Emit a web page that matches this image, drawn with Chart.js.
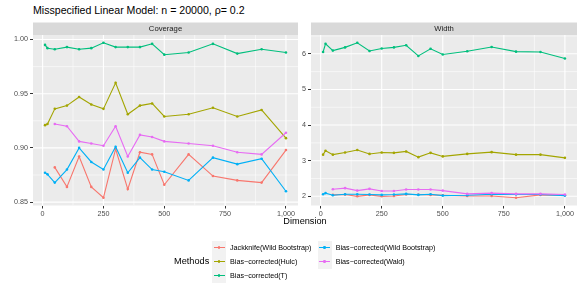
<!DOCTYPE html>
<html><head><meta charset="utf-8">
<script src="https://cdn.jsdelivr.net/npm/chart.js@4"></script>
<style>
body{margin:0;width:581px;height:291px;background:#fff;position:relative;overflow:hidden;font-family:"Liberation Sans",Arial,sans-serif;}
canvas{position:absolute;top:0}
.t{position:absolute;white-space:nowrap;color:#000;line-height:1}
</style></head><body>
<div class="t" id="title" style="left:33px;top:5px;font-size:10.6px;">Misspecified Linear Model: n = 20000, ρ= 0.2</div>
<canvas id="c1" width="300" height="230" style="left:0"></canvas>
<canvas id="c2" width="281" height="230" style="left:300px"></canvas>
<div class="t" style="left:205px;width:200px;text-align:center;top:216.5px;font-size:9.2px;">Dimension</div>
<div id="legend"></div>
<script>
// ---- data ----
const dims = [10,20,50,100,150,200,250,300,350,400,450,500,600,700,800,900,1000];
const methods = ['Jackknife(Wild Bootstrap)','Bias\u2212corrected(Hulc)','Bias\u2212corrected(T)','Bias\u2212corrected(Wild Bootstrap)','Bias\u2212corrected(Wald)'];
const colors = ['#F8766D','#A3A500','#00BF7D','#00B0F6','#E76BF3'];

const covJack = [null,null,0.882,0.864,0.892,0.864,0.854,0.899,0.862,0.896,0.894,0.866,0.894,0.874,0.870,0.868,0.898];
const covHulc = [0.921,0.922,0.936,0.939,0.947,0.940,0.936,0.960,0.931,0.939,0.941,0.929,0.931,0.937,0.929,0.935,0.909];
const covT    = [0.995,0.992,0.991,0.993,0.991,0.992,0.997,0.993,0.993,0.993,0.996,0.986,0.988,0.996,0.987,0.991,0.988];
const covWild = [0.877,0.8756,0.868,0.880,0.900,0.887,0.880,0.901,0.877,0.891,0.880,0.878,0.870,0.891,0.885,0.890,0.860];
const covWald = [null,null,0.922,0.920,0.906,0.904,0.902,0.920,0.892,0.912,0.910,0.906,0.904,0.902,0.896,0.894,0.914];

const widJack = [null,null,2.04,2.05,2.00,2.04,2.00,2.01,2.05,2.05,2.04,2.03,2.01,2.01,1.96,2.04,2.03];
const widHulc = [3.17,3.28,3.17,3.23,3.30,3.19,3.23,3.22,3.26,3.10,3.22,3.12,3.19,3.24,3.17,3.17,3.08];
const widT    = [6.05,6.28,6.09,6.18,6.31,6.08,6.15,6.18,6.24,5.94,6.14,5.98,6.07,6.19,6.06,6.05,5.87];
const widWild = [2.06,2.09,2.03,2.06,2.06,2.05,2.04,2.05,2.07,2.04,2.06,2.02,2.03,2.06,2.05,2.05,2.02];
const widWald = [null,null,2.20,2.23,2.16,2.21,2.15,2.15,2.19,2.19,2.19,2.16,2.07,2.09,2.07,2.07,2.05];

const dimTicks = [0,250,500,750,1000];
const covTicks = [0.85,0.90,0.95,1.00];
const widTicks = [2,3,4,5,6];

// ---- helpers ----
const FONT = '"Liberation Sans", Arial, sans-serif';
function expand(lo,hi){const d=(hi-lo)*0.05;return [lo-d,hi+d];}
function rangeOf(arrs){const v=arrs.flat().filter(x=>x!=null);return expand(Math.min(...v),Math.max(...v));}
function minors(t){const r=[];const s=t[1]-t[0];r.push(t[0]-s/2);for(let i=0;i<t.length;i++)r.push(t[i]+s/2);return r;}

const panelPlugin = {
  id:'panel',
  beforeDraw(chart){
    const o = chart.options.plugins.panel;
    const {ctx, chartArea:a, scales:{x,y}} = chart;
    ctx.save();
    ctx.fillStyle='#EBEBEB';
    ctx.fillRect(a.left,a.top,a.right-a.left,a.bottom-a.top);
    ctx.beginPath(); ctx.rect(a.left,a.top,a.right-a.left,a.bottom-a.top); ctx.clip();
    ctx.strokeStyle='#FFFFFF';
    ctx.lineWidth=0.55;
    minors(o.xt).forEach(v=>{const p=x.getPixelForValue(v);ctx.beginPath();ctx.moveTo(p,a.top);ctx.lineTo(p,a.bottom);ctx.stroke();});
    minors(o.yt).forEach(v=>{const p=y.getPixelForValue(v);ctx.beginPath();ctx.moveTo(a.left,p);ctx.lineTo(a.right,p);ctx.stroke();});
    ctx.lineWidth=1.1;
    o.xt.forEach(v=>{const p=x.getPixelForValue(v);ctx.beginPath();ctx.moveTo(p,a.top);ctx.lineTo(p,a.bottom);ctx.stroke();});
    o.yt.forEach(v=>{const p=y.getPixelForValue(v);ctx.beginPath();ctx.moveTo(a.left,p);ctx.lineTo(a.right,p);ctx.stroke();});
    ctx.restore();
    ctx.save();
    ctx.fillStyle='#D9D9D9';
    ctx.fillRect(a.left,a.top-12.5,a.right-a.left,12.5);
    ctx.fillStyle='#1A1A1A';
    ctx.font='7.7px '+FONT;
    ctx.textAlign='center'; ctx.textBaseline='middle';
    ctx.fillText(o.label,(a.left+a.right)/2,a.top-6);
    ctx.restore();
  }
};

function makeChart(id, label, series, yTicks, fmt, yW, padR){
  const yr = rangeOf(series);
  const datasets = series.map((s,i)=>({
    label: methods[i],
    data: dims.map((d,j)=>({x:d,y:s[j]})),
    borderColor: colors[i], backgroundColor: colors[i],
    borderWidth: 1.1, pointRadius: 1.3, pointBorderWidth:0, pointHoverRadius:0,
    tension:0, spanGaps:false, order: 5-i, clip:false
  }));
  return new Chart(document.getElementById(id), {
    type:'line',
    data:{datasets},
    plugins:[panelPlugin],
    options:{
      responsive:false, animation:false, devicePixelRatio:1,
      layout:{padding:{left:0,right:padR,top:35,bottom:6.5}},
      plugins:{legend:{display:false},tooltip:{enabled:false},panel:{label,xt:dimTicks,yt:yTicks}},
      scales:{
        x:{type:'linear',min:-39.5,max:1049.5,
           afterBuildTicks:s=>{s.ticks=dimTicks.map(v=>({value:v}));},
           afterFit:s=>{s.height=18;},
           grid:{drawOnChartArea:false,drawTicks:true,tickLength:3,tickColor:'#333333',tickWidth:1},
           border:{display:false},
           ticks:{color:'#4D4D4D',font:{family:FONT,size:7.2},padding:1,maxRotation:0,autoSkip:false}},
        y:{type:'linear',min:yr[0],max:yr[1],
           afterBuildTicks:s=>{s.ticks=yTicks.map(v=>({value:v}));},
           afterFit:s=>{s.width=yW;},
           grid:{drawOnChartArea:false,drawTicks:true,tickLength:3,tickColor:'#333333',tickWidth:1},
           border:{display:false},
           ticks:{color:'#4D4D4D',font:{family:FONT,size:7.2},padding:2,callback:fmt,autoSkip:false}}
      }
    }
  });
}

makeChart('c1','Coverage',[covJack,covHulc,covT,covWild,covWald],covTicks,v=>v.toFixed(2),33,2);
makeChart('c2','Width',[widJack,widHulc,widT,widWild,widWald],widTicks,v=>String(v),11,4);

// ---- legend ----
const leg = document.getElementById('legend');
function add(html){leg.insertAdjacentHTML('beforeend',html);}
add('<div class="t" style="left:174px;top:256.5px;font-size:9.2px;">Methods</div>');
const keyX=[212,317.5], labX=[230,335.7], rowC=[247.5,261.5,275.5];
methods.forEach((m,i)=>{
  const col = i<3?0:1, row = i<3?i:i-3;
  const kx=keyX[col], cy=rowC[row];
  add(`<div style="position:absolute;left:${kx}px;top:${cy-7}px;width:14px;height:14px;background:#F2F2F2"></div>`);
  add(`<div style="position:absolute;left:${kx+1.5}px;top:${cy-0.5}px;width:11px;height:1px;background:${colors[i]}"></div>`);
  add(`<div style="position:absolute;left:${kx+5.7}px;top:${cy-1.3}px;width:2.6px;height:2.6px;border-radius:50%;background:${colors[i]}"></div>`);
  add(`<div class="t" style="left:${labX[col]}px;top:${cy-3.8}px;font-size:7.2px;color:#000">${m}</div>`);
});
</script>
</body></html>
